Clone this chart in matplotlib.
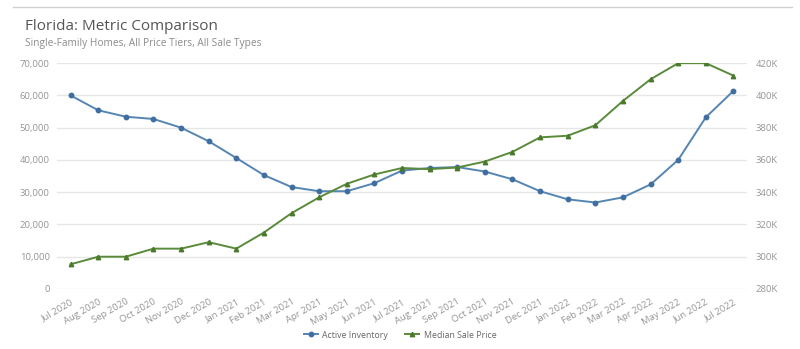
import numpy as np
import matplotlib
matplotlib.use("Agg")
import matplotlib.pyplot as plt
from matplotlib.ticker import FuncFormatter

months = ["Jul 2020", "Aug 2020", "Sep 2020", "Oct 2020", "Nov 2020", "Dec 2020",
          "Jan 2021", "Feb 2021", "Mar 2021", "Apr 2021", "May 2021", "Jun 2021",
          "Jul 2021", "Aug 2021", "Sep 2021", "Oct 2021", "Nov 2021", "Dec 2021",
          "Jan 2022", "Feb 2022", "Mar 2022", "Apr 2022", "May 2022", "Jun 2022",
          "Jul 2022"]

active_inventory = [60000, 55400, 53400, 52700, 50000, 45800,
                    40600, 35300, 31600, 30300, 30300, 32800,
                    36700, 37500, 37800, 36400, 34000, 30300,
                    27800, 26800, 28400, 32400, 40000, 53200,
                    61400]

median_sale_price = [295300, 300000, 300000, 305000, 305000, 309000,
                     305000, 315000, 327000, 336800, 345200, 351000,
                     355000, 354300, 355300, 359000, 365000, 374000,
                     375000, 381500, 396600, 410000, 420000, 420000,
                     412300]

plt.rcParams["font.family"] = ["Open Sans", "DejaVu Sans"]

blue = "#5585b3"
green = "#5a8a3a"
tick_col = "#959595"
grid_col = "#e6e6e6"

fig = plt.figure(figsize=(8, 3.49), dpi=100)
fig.add_artist(plt.Line2D([0.016, 0.99], [0.98, 0.98], color="#d0d0d0", lw=1))
fig.text(0.031, 0.915, "Florida: Metric Comparison", fontsize=11, color="#555555")
fig.text(0.031, 0.868, "Single-Family Homes, All Price Tiers, All Sale Types",
         fontsize=7.3, color="#8a8a8a")

ax = fig.add_axes([0.071, 0.172, 0.863, 0.647])
ax2 = ax.twinx()

x = np.arange(len(months))
ax.plot(x, active_inventory, "-o", color=blue, lw=1.4, ms=3.2,
        markerfacecolor="#3f6fa0", markeredgecolor="#3f6fa0", label="Active Inventory")
ax2.plot(x, median_sale_price, "-^", color=green, lw=1.4, ms=3.2,
         markerfacecolor="#4a7a2c", markeredgecolor="#4a7a2c", label="Median Sale Price")

ax.set_xlim(-0.5, len(months) - 0.5)
ax.set_ylim(0, 70000)
ax.set_yticks(np.arange(0, 70001, 10000))
ax.yaxis.set_major_formatter(FuncFormatter(lambda v, p: "{:,.0f}".format(v)))
ax2.set_ylim(280000, 420000)
ax2.set_yticks(np.arange(280000, 420001, 20000))
ax2.yaxis.set_major_formatter(FuncFormatter(lambda v, p: "%dK" % (v / 1000)))

ax.grid(True, axis="y", color=grid_col, lw=1)
ax.set_axisbelow(True)
ax.set_xticks(x)
ax.set_xticklabels(months, rotation=30, ha="right", rotation_mode="anchor")

for a in (ax, ax2):
    for s in a.spines.values():
        s.set_visible(False)
    a.tick_params(length=0, colors=tick_col, labelsize=6.8)
ax.tick_params(axis="y", pad=5)
ax2.tick_params(axis="y", pad=6)
ax.tick_params(axis="x", pad=6)

ha, lb = ax.get_legend_handles_labels()
ha2, lb2 = ax2.get_legend_handles_labels()
leg = fig.legend(ha + ha2, lb + lb2, loc="center", bbox_to_anchor=(0.5, 0.04),
                 ncol=2, frameon=False, fontsize=6.3, handlelength=1.6,
                 handletextpad=0.5, columnspacing=2.0, labelcolor="#666666")

fig.savefig("out.png", dpi=100)
